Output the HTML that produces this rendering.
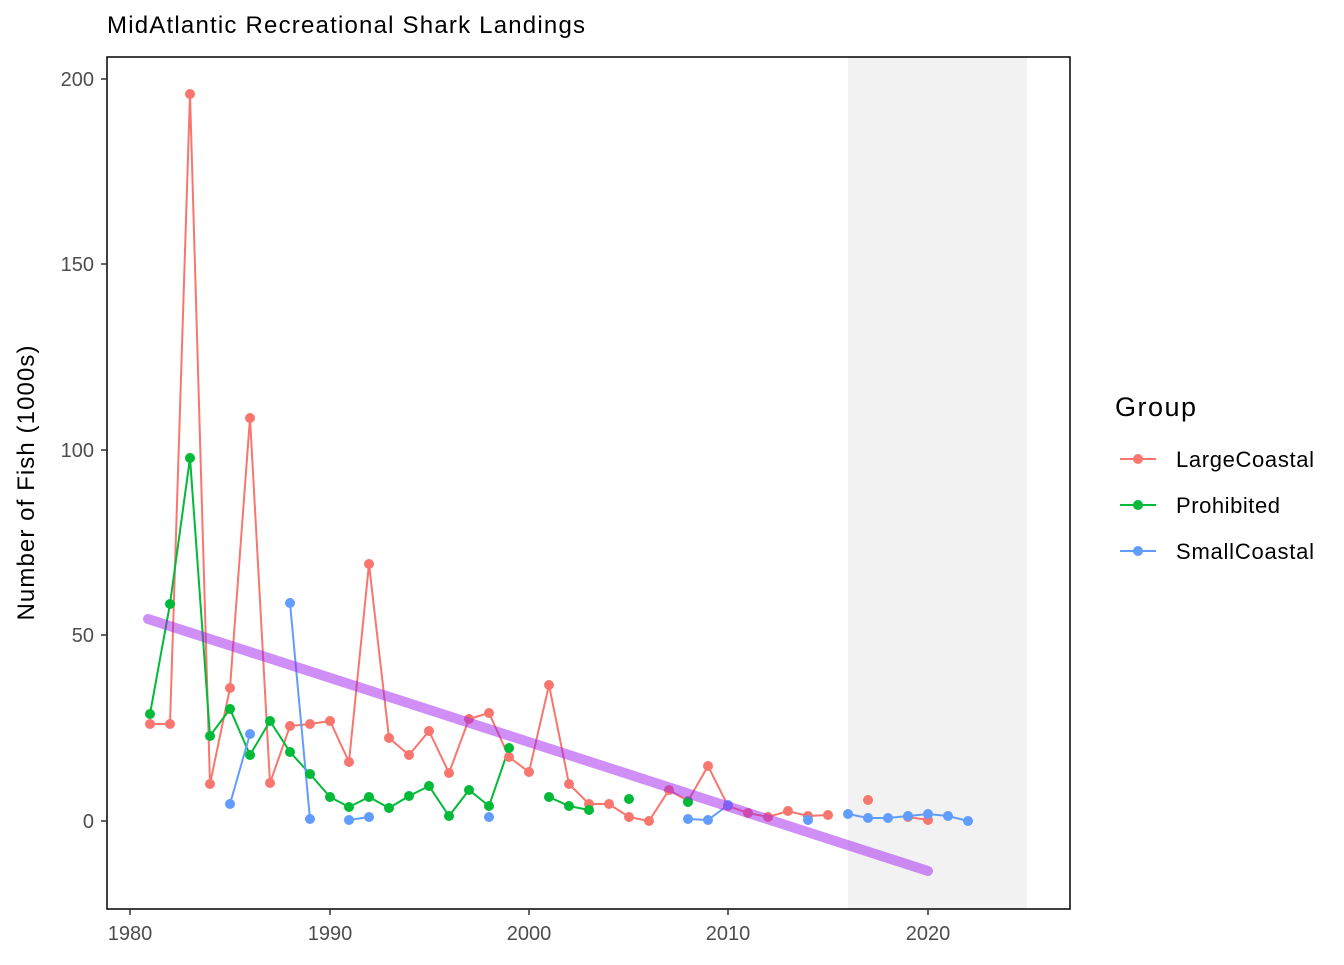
<!DOCTYPE html>
<html><head><meta charset="utf-8"><style>body{margin:0;background:#fff}svg text{font-family:"Liberation Sans",sans-serif}</style></head><body>
<svg width="1344" height="960" xmlns="http://www.w3.org/2000/svg">
<rect width="1344" height="960" fill="#fff"/>
<rect x="848" y="57" width="179" height="852" fill="#f2f2f2"/>
<g fill="none" stroke-width="2">
<polyline stroke="#F8766D" points="150,724 170,724 190,94 210,784 230,688 250,418 270,783 290,726 310,724 330,721 349,762 369,564 389,738 409,755 429,731 449,773 469,719 489,713 509,757 529,772 549,685 569,784 589,804 609,804 629,817 649,821 669,790 688,801 708,766 728,806 748,813 768,817 788,811 808,816 828,815"/>
<polyline stroke="#F8766D" points="908,817 928,820"/>
<polyline stroke="#00BA38" points="150,714 170,604 190,458 210,736 230,709 250,755 270,721 290,752 310,774 330,797 349,807 369,797 389,808 409,796 429,786 449,816 469,790 489,806 509,748"/>
<polyline stroke="#00BA38" points="549,797 569,806 589,810"/>
<polyline stroke="#619CFF" points="230,804 250,734"/>
<polyline stroke="#619CFF" points="290,603 310,819"/>
<polyline stroke="#619CFF" points="349,820 369,817"/>
<polyline stroke="#619CFF" points="688,819 708,820 728,805"/>
<polyline stroke="#619CFF" points="848,814 868,818 888,818 908,816 928,814 948,816 968,821"/>
</g>
<g fill="#F8766D">
<circle cx="150" cy="724" r="5"/><circle cx="170" cy="724" r="5"/><circle cx="190" cy="94" r="5"/><circle cx="210" cy="784" r="5"/><circle cx="230" cy="688" r="5"/><circle cx="250" cy="418" r="5"/><circle cx="270" cy="783" r="5"/><circle cx="290" cy="726" r="5"/><circle cx="310" cy="724" r="5"/><circle cx="330" cy="721" r="5"/><circle cx="349" cy="762" r="5"/><circle cx="369" cy="564" r="5"/><circle cx="389" cy="738" r="5"/><circle cx="409" cy="755" r="5"/><circle cx="429" cy="731" r="5"/><circle cx="449" cy="773" r="5"/><circle cx="469" cy="719" r="5"/><circle cx="489" cy="713" r="5"/><circle cx="509" cy="757" r="5"/><circle cx="529" cy="772" r="5"/><circle cx="549" cy="685" r="5"/><circle cx="569" cy="784" r="5"/><circle cx="589" cy="804" r="5"/><circle cx="609" cy="804" r="5"/><circle cx="629" cy="817" r="5"/><circle cx="649" cy="821" r="5"/><circle cx="669" cy="790" r="5"/><circle cx="688" cy="801" r="5"/><circle cx="708" cy="766" r="5"/><circle cx="728" cy="806" r="5"/><circle cx="748" cy="813" r="5"/><circle cx="768" cy="817" r="5"/><circle cx="788" cy="811" r="5"/><circle cx="808" cy="816" r="5"/><circle cx="828" cy="815" r="5"/><circle cx="868" cy="800" r="5"/><circle cx="908" cy="817" r="5"/><circle cx="928" cy="820" r="5"/>
</g>
<g fill="#00BA38">
<circle cx="150" cy="714" r="5"/><circle cx="170" cy="604" r="5"/><circle cx="190" cy="458" r="5"/><circle cx="210" cy="736" r="5"/><circle cx="230" cy="709" r="5"/><circle cx="250" cy="755" r="5"/><circle cx="270" cy="721" r="5"/><circle cx="290" cy="752" r="5"/><circle cx="310" cy="774" r="5"/><circle cx="330" cy="797" r="5"/><circle cx="349" cy="807" r="5"/><circle cx="369" cy="797" r="5"/><circle cx="389" cy="808" r="5"/><circle cx="409" cy="796" r="5"/><circle cx="429" cy="786" r="5"/><circle cx="449" cy="816" r="5"/><circle cx="469" cy="790" r="5"/><circle cx="489" cy="806" r="5"/><circle cx="509" cy="748" r="5"/><circle cx="549" cy="797" r="5"/><circle cx="569" cy="806" r="5"/><circle cx="589" cy="810" r="5"/><circle cx="629" cy="799" r="5"/><circle cx="688" cy="802" r="5"/>
</g>
<g fill="#619CFF">
<circle cx="230" cy="804" r="5"/><circle cx="250" cy="734" r="5"/><circle cx="290" cy="603" r="5"/><circle cx="310" cy="819" r="5"/><circle cx="349" cy="820" r="5"/><circle cx="369" cy="817" r="5"/><circle cx="489" cy="817" r="5"/><circle cx="688" cy="819" r="5"/><circle cx="708" cy="820" r="5"/><circle cx="728" cy="805" r="5"/><circle cx="808" cy="820" r="5"/><circle cx="848" cy="814" r="5"/><circle cx="868" cy="818" r="5"/><circle cx="888" cy="818" r="5"/><circle cx="908" cy="816" r="5"/><circle cx="928" cy="814" r="5"/><circle cx="948" cy="816" r="5"/><circle cx="968" cy="821" r="5"/>
</g>
<line x1="148" y1="619" x2="928" y2="871" stroke="rgb(160,32,240)" stroke-opacity="0.5" stroke-width="10" stroke-linecap="round"/>
<rect x="107" y="57" width="963" height="852" fill="none" stroke="#000" stroke-width="1.5"/>
<g stroke="#333" stroke-width="1.5">
<line x1="101" y1="79" x2="107" y2="79"/><line x1="101" y1="264" x2="107" y2="264"/><line x1="101" y1="450" x2="107" y2="450"/><line x1="101" y1="635" x2="107" y2="635"/><line x1="101" y1="821" x2="107" y2="821"/>
<line x1="130" y1="909" x2="130" y2="915"/><line x1="330" y1="909" x2="330" y2="915"/><line x1="529" y1="909" x2="529" y2="915"/><line x1="728" y1="909" x2="728" y2="915"/><line x1="928" y1="909" x2="928" y2="915"/>
</g>
<g font-size="20" fill="#4d4d4d" text-anchor="end">
<text x="94" y="86">200</text><text x="94" y="271">150</text><text x="94" y="457">100</text><text x="94" y="642">50</text><text x="94" y="828">0</text>
</g>
<g font-size="20" fill="#4d4d4d" text-anchor="middle">
<text x="130" y="940">1980</text><text x="330" y="940">1990</text><text x="529" y="940">2000</text><text x="728" y="940">2010</text><text x="928" y="940">2020</text>
</g>
<text x="107" y="33" font-size="24" fill="#000" textLength="478">MidAtlantic Recreational Shark Landings</text>
<text transform="translate(34,483) rotate(-90)" font-size="24" text-anchor="middle" fill="#000" textLength="275">Number of Fish (1000s)</text>
<text x="1115" y="416" font-size="27" fill="#000" textLength="81">Group</text>
<g stroke-width="2">
<line x1="1120" y1="459" x2="1156" y2="459" stroke="#F8766D"/><circle cx="1138" cy="459" r="5" fill="#F8766D"/>
<line x1="1120" y1="505" x2="1156" y2="505" stroke="#00BA38"/><circle cx="1138" cy="505" r="5" fill="#00BA38"/>
<line x1="1120" y1="551" x2="1156" y2="551" stroke="#619CFF"/><circle cx="1138" cy="551" r="5" fill="#619CFF"/>
</g>
<g font-size="22" fill="#000">
<text x="1176" y="467" textLength="138">LargeCoastal</text><text x="1176" y="513" textLength="104">Prohibited</text><text x="1176" y="559" textLength="138">SmallCoastal</text>
</g>
</svg>
</body></html>
